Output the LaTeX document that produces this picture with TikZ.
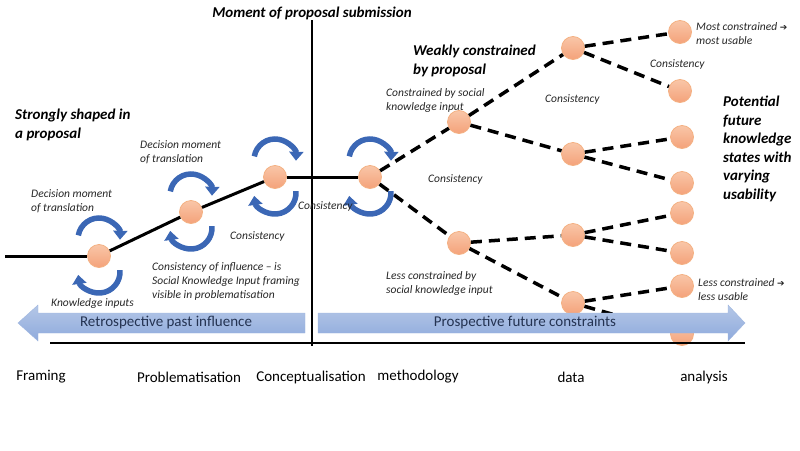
\documentclass[tikz,border=0pt]{standalone}
\usepackage{fontspec}
\setmainfont{Carlito}
\newfontfamily\symfont{DejaVu Sans}
\usepackage{tikz}
\usetikzlibrary{arrows.meta}
\definecolor{statetop}{HTML}{F9C6A8}
\definecolor{statebot}{HTML}{F4A27A}
\definecolor{stateedge}{HTML}{F4B183}
\definecolor{turnblue}{HTML}{3B67B5}
\definecolor{bandtop}{HTML}{B4C7E7}
\definecolor{bandbot}{HTML}{8FAADC}
\definecolor{bandedge}{HTML}{9FB6DF}
\definecolor{bandtext}{HTML}{243352}
\newcommand{\sym}[1]{{\symfont\fontsize{9}{10}\selectfont #1}}
% pair of turning arrows above and below a state
\newcommand{\turnpair}[1]{%
  \draw[turn] (#1.center) ++(0,-17) ++(190:21) arc[start angle=190, end angle=362, radius=21];
  \draw[turn] (#1.center) ++(0,16) ++(-5:21) arc[start angle=-5, end angle=172, radius=21];}

\begin{document}
\begin{tikzpicture}[x=1pt, y=-1pt, state/.style={circle, draw=stateedge, top color=statetop, bottom color=statebot, minimum size=23pt, inner sep=0pt, thick}, solidline/.style={line width=3pt}, dashline/.style={line width=3.5pt, dash pattern=on 11pt off 7pt}, turn/.style={line width=5.5pt, draw=turnblue, -{Triangle[width=14pt, length=9pt]}}, note/.style={font=\fontsize{11.5}{14}\selectfont\itshape, text=black!85, align=left, inner sep=0pt, anchor=west}, heading/.style={font=\fontsize{15}{18.5}\selectfont\bfseries\itshape, align=left, inner sep=0pt, anchor=west}, stage/.style={font=\fontsize{15}{17}\selectfont, inner sep=0pt}, bandlabel/.style={font=\fontsize{15}{17}\selectfont, text=bandtext, inner sep=0pt}]
    \useasboundingbox (0,0) rectangle (800,450);

    %Nodes
    \node[state](framing) at (99,256){};
    \node[state](problem) at (191,212){};
    \node[state](concept) at (275,177){};
    \node[state](method) at (370,177){};
    \node[state](strong) at (459,122){};
    \node[state](weak) at (459,243){};
    \node[state](dataA) at (573,48){};
    \node[state](dataB) at (573,154){};
    \node[state](dataC) at (573,235){};
    \node[state](dataD) at (573,303){};
    \node[state](endA) at (680,32){};
    \node[state](endB) at (680,91){};
    \node[state](endC) at (682,137){};
    \node[state](endD) at (682,183){};
    \node[state](endE) at (682,213){};
    \node[state](endF) at (682,253){};
    \node[state](endG) at (682,286){};
    \node[state](endH) at (682,334){};
    \coordinate (start) at (5,256);
    \coordinate (submitTop) at (312,20);
    \coordinate (submitBottom) at (312,346);
    \coordinate (axisLeft) at (50,343);
    \coordinate (axisRight) at (745,343);

    %Lines
    \draw[line width=1.2pt] (submitTop) -- (submitBottom);
    \draw[line width=1.5pt] (axisLeft) -- (axisRight);
    \draw[solidline] (start) -- (framing);
    \draw[solidline] (framing) -- (problem);
    \draw[solidline] (problem) -- (concept);
    \draw[solidline] (concept) -- (method);
    \draw[dashline] (method) -- (strong);
    \draw[dashline] (method) -- (weak);
    \draw[dashline] (strong) -- (dataA);
    \draw[dashline] (strong) -- (dataB);
    \draw[dashline] (weak) -- (dataC);
    \draw[dashline] (weak) -- (dataD);
    \draw[dashline] (dataA) -- (endA);
    \draw[dashline] (dataA) -- (endB);
    \draw[dashline] (dataB) -- (endC);
    \draw[dashline] (dataB) -- (endD);
    \draw[dashline] (dataC) -- (endE);
    \draw[dashline] (dataC) -- (endF);
    \draw[dashline] (dataD) -- (endG);
    \draw[dashline] (dataD) -- (endH);

    %Turning arrows
    \turnpair{framing}
    \turnpair{problem}
    \turnpair{concept}
    \turnpair{method}

    %Bands
    \shade[top color=bandtop, bottom color=bandbot, draw=bandedge] (305,313) -- (38,313) -- (38,305) -- (18,323) -- (38,341) -- (38,333) -- (305,333) -- cycle;
    \shade[top color=bandtop, bottom color=bandbot, draw=bandedge] (318,313) -- (728,313) -- (728,305) -- (745,323) -- (728,341) -- (728,333) -- (318,333) -- cycle;
    \node[bandlabel](past) at (166,323){Retrospective past influence};
    \node[bandlabel](future) at (525,323){Prospective future constraints};

    %Labels
    \node[heading, anchor=center](submission) at (312,13){Moment of proposal submission};
    \node[heading](shaped) at (15,125){Strongly shaped in\\a proposal};
    \node[heading](weakly) at (413,61){Weakly constrained\\by proposal};
    \node[heading](potential) at (723,149){Potential\\future\\knowledge\\states with\\varying\\usability};
    \node[note](decisionA) at (31,201){Decision moment\\of translation};
    \node[note](decisionB) at (140,152){Decision moment\\of translation};
    \node[note](inputs) at (51,303){Knowledge inputs};
    \node[note](consB) at (230,236){Consistency};
    \node[note](influence) at (152,281){Consistency of influence -- is\\Social Knowledge Input framing\\visible in problematisation};
    \node[note](consC) at (298,206){Consistency};
    \node[note](socialIn) at (386,100){Constrained by social\\knowledge input};
    \node[note](consD) at (428,179){Consistency};
    \node[note](consE) at (545,99){Consistency};
    \node[note](consF) at (650,64){Consistency};
    \node[note](most) at (696,34){Most constrained \sym{➔}\\most usable};
    \node[note](less) at (698,290){Less constrained \sym{➔}\\less usable};
    \node[note](socialOut) at (386,283){Less constrained by\\social knowledge input};

    %Stages
    \node[stage](sFraming) at (41,377){Framing};
    \node[stage](sProblem) at (189,377){Problematisation};
    \node[stage](sConcept) at (311,377){Conceptualisation};
    \node[stage](sMethod) at (418,377){methodology};
    \node[stage](sData) at (571,377){data};
    \node[stage](sAnalysis) at (704,377){analysis};

\end{tikzpicture}
\end{document}
